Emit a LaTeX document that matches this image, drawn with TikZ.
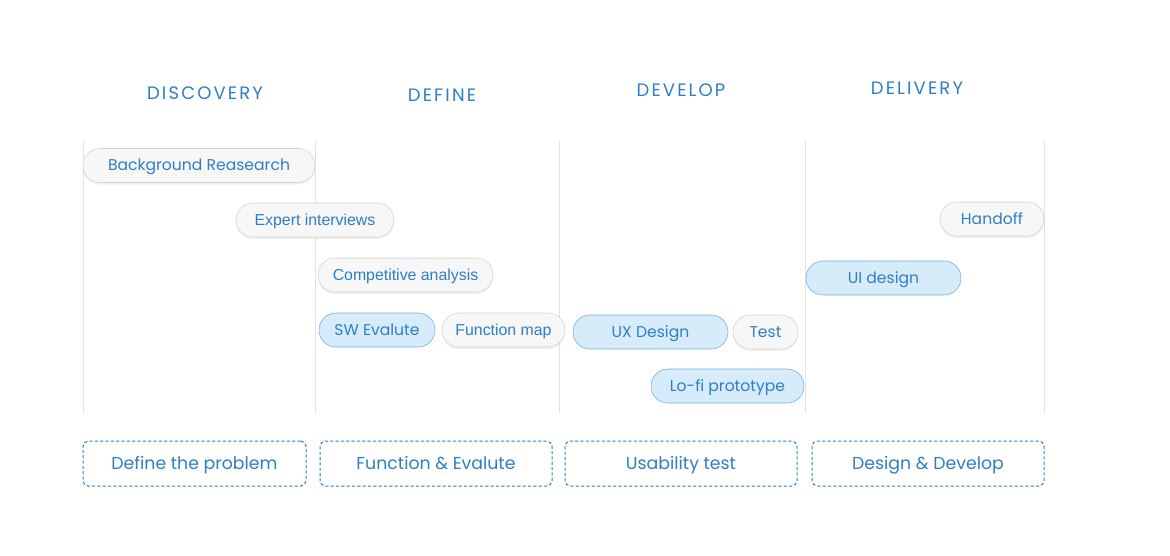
\documentclass[tikz,border=0pt]{standalone}
\usepackage{fontspec}
\setmainfont{Poppins}
\newfontfamily\helv{Liberation Sans}
\newfontfamily\headfont[LetterSpace=12]{Poppins}
\usepackage{tikz}
\usetikzlibrary{shadows}
\definecolor{PhaseBlue}{HTML}{2E7EC6}
\definecolor{PillBlue}{HTML}{D6ECFB}
\definecolor{PillBlueEdge}{HTML}{6FAADA}
\definecolor{PillGray}{HTML}{F7F7F7}
\definecolor{PillGrayEdge}{HTML}{D2D2D2}
\definecolor{GridGray}{HTML}{E2E2E2}
\definecolor{BoxEdge}{HTML}{2A82CC}

\begin{document}
\begin{tikzpicture}[x=0.75pt, y=-0.75pt,
  every node/.style={text=PhaseBlue, align=center},
  phase/.style={font=\headfont\fontsize{13.5}{16}\selectfont},
  pill/.style={rounded corners=12.7pt, minimum height=25.5pt, inner sep=0pt, text height=9.5pt, text depth=1.3pt, font=\fontsize{11.7}{14}\selectfont},
  helvpill/.style={font=\helv\fontsize{11.9}{14}\selectfont},
  graypill/.style={pill, draw=PillGrayEdge, fill=PillGray, drop shadow={opacity=0.12, shadow xshift=0pt, shadow yshift=-1.5pt}},
  bluepill/.style={pill, draw=PillBlueEdge, fill=PillBlue},
  outcome/.style={draw=BoxEdge, line width=0.75pt, dash pattern=on 2.4pt off 1.6pt, rounded corners=4pt, minimum width=174pt, minimum height=33.75pt, inner sep=0pt, text height=10pt, text depth=1.2pt, font=\fontsize{13}{15}\selectfont}]
  \useasboundingbox (0,0) rectangle (1170,556);
  % phase columns
  \foreach \gx in {83,315,559,805,1044}
    \draw[GridGray, line width=0.6pt] (\gx,141) -- (\gx,413);
  \node[phase] (discovery) at (205,93) {DISCOVERY};
  \node[phase] (define) at (442,95) {DEFINE};
  \node[phase] (develop) at (681,90) {DEVELOP};
  \node[phase] (delivery) at (917,88) {DELIVERY};
  % activities
  \node[graypill, minimum width=174pt] (research) at (199,165.5) {Background Reasearch};
  \node[graypill, helvpill, minimum width=118.5pt] (interviews) at (315,220) {Expert interviews};
  \node[graypill, helvpill, minimum width=131.25pt] (competitive) at (405.5,275) {Competitive analysis};
  \node[bluepill, minimum width=87pt] (swevalute) at (377,330) {SW Evalute};
  \node[graypill, helvpill, minimum width=92.25pt] (funcmap) at (503.5,330) {Function map};
  \node[bluepill, minimum width=116.25pt] (uxdesign) at (650.5,332) {UX Design};
  \node[graypill, minimum width=48.75pt] (test) at (765.5,332) {Test};
  \node[bluepill, minimum width=114.75pt] (lofi) at (727.5,386) {Lo-fi prototype};
  \node[bluepill, minimum width=116.25pt] (uidesign) at (883.5,278) {UI design};
  \node[graypill, minimum width=78pt] (handoff) at (992,219) {Handoff};
  % outcomes
  \node[outcome, minimum width=167.25pt] (problem) at (194.5,463.5) {Define the problem};
  \node[outcome] (funceval) at (436,463.5) {Function \& Evalute};
  \node[outcome] (usability) at (681,463.5) {Usability test};
  \node[outcome] (designdev) at (928,463.5) {Design \& Develop};
\end{tikzpicture}
\end{document}
